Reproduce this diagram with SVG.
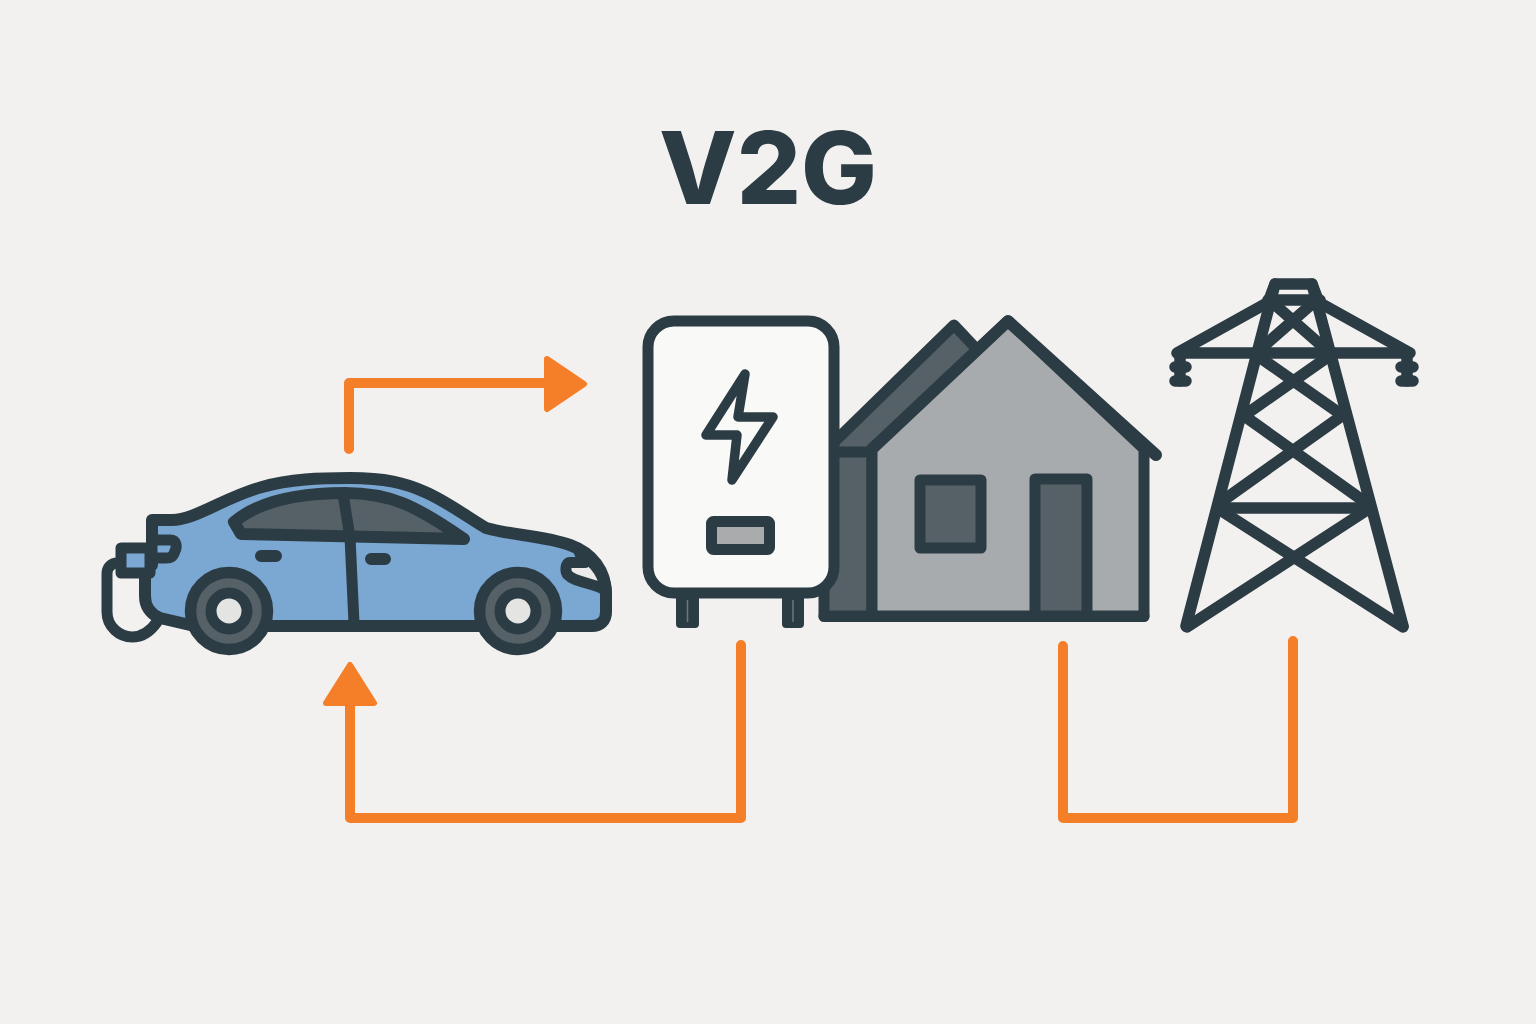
<svg xmlns="http://www.w3.org/2000/svg" width="1536" height="1024" viewBox="0 0 1536 1024">
<style>
.k{stroke:#2c3c44;stroke-linejoin:round;stroke-linecap:round}
.l{fill:none;stroke:#2c3c44;stroke-linejoin:round;stroke-linecap:round}
.o{fill:none;stroke:#f57f28;stroke-width:10;stroke-linejoin:round;stroke-linecap:round}
.h{fill:#f57f28;stroke:#f57f28;stroke-width:6;stroke-linejoin:round}
.d{fill:#566067}
</style>
<rect width="1536" height="1024" fill="#f2f1ef"/>
<text id="title" x="768" y="204" text-anchor="middle" font-family="Inter, Liberation Sans, Arial, sans-serif" font-weight="800" font-size="101" fill="#2c3c44">V2G</text>
<g id="car">
<path class="k" stroke-width="12" fill="#7ba7d3" d="M152 520 L172 520 C195 520 225 497 262 487 C290 479 320 478 350 478 C385 478 405 483 425 492 C448 502 470 519 486 528 C510 535 545 536 570 545 C592 553 606 570 606 595 L606 612 C606 621 600 626 592 626 L210 626 L190 625 L160 618 C150 614 145 606 145 596 L145 570 L152 565 Z"/>
<path class="k" stroke-width="12" fill="#566067" d="M234 522 C258 502 295 493 345 493 C390 493 415 505 464 539 L241 534 Z"/>
<path class="l" stroke-width="11" d="M343 494 L350 537 L354 623"/>
<path class="l" stroke-width="12" d="M261 556 L276 556M371 559 L385 559"/>
<path class="k" stroke-width="11" fill="#7ba7d3" d="M152 540 L170 540 C177 540 177 547 175 551 C173 557 171 558 166 558 L152 558 Z"/>
<rect class="k" stroke-width="11" fill="#7ba7d3" x="121" y="548" width="29" height="25"/>
<path class="l" stroke-width="11" d="M118 563 C110 563 107 568 107 574 L107 612 C107 627 120 637 132 637 C142 637 150 632 157 622"/>
<path fill="#ecebea" d="M568 567 L596 567 C600 572 601 578 603 584 C590 578 578 578 570 574 Z"/>
<path class="l" stroke-width="11" d="M585 562.500 L570 562.500 C565 562.500 565 572 568 575 C574 582 590 582 606 590"/>
<path class="l" stroke-width="12" d="M580 553 C596 562 606 575 606 595"/>
<circle class="k" cx="229" cy="611" r="38.500" stroke-width="11.500" fill="#566067"/>
<circle class="k" cx="229" cy="611" r="18" stroke-width="11" fill="#e4e4e3"/>
<circle class="k" cx="518" cy="611" r="38.500" stroke-width="11.500" fill="#566067"/>
<circle class="k" cx="518" cy="611" r="18" stroke-width="11" fill="#e4e4e3"/>
</g>
<g id="house">
<path class="k d" stroke-width="11" d="M824 616 L824 452 L954 325 L985 358 L872 452 L872 616 Z"/>
<path class="l" stroke-width="11" d="M826 452 L872 452"/>
<path class="k" stroke-width="11" fill="#a8abad" d="M872 616 L872 449 L1008 321 L1144 449 L1144 616 Z"/>
<path class="l" stroke-width="12" d="M872 449 L1008 321 L1156 455"/>
<rect class="k d" stroke-width="11" x="920" y="480" width="61" height="68"/>
<path class="k d" stroke-width="11" d="M1035 616 L1035 479 L1087 479 L1087 616 Z"/>
<path class="l" stroke-width="11" d="M824 616.500 L1144 616.500"/>
</g>
<g id="charger">
<rect class="k" x="677" y="590" width="21" height="37" rx="3" stroke-width="2" fill="#2c3c44"/>
<rect class="k" x="783" y="590" width="20" height="37" rx="3" stroke-width="2" fill="#2c3c44"/>
<path stroke="#6d777c" stroke-width="1.500" d="M687.500 600V622M793 600V622"/>
<rect class="k" x="648" y="321" width="186" height="272" rx="26" stroke-width="11" fill="#f9f9f7"/>
<path class="k" stroke-width="9.500" fill="none" d="M745 374 L706 435 L737 435 L732 480 L773 417 L738 417 Z"/>
<rect class="k" x="711.500" y="521.500" width="58" height="28" rx="2" stroke-width="11" fill="#a9abac"/>
</g>
<g id="tower" class="l" stroke-width="11.500">
<path d="M1269 300 L1275 284 L1312 284 L1318 300"/>
<path d="M1275 284 L1186 626 M1312 284 L1403 626"/>
<path d="M1268 300 L1320 300"/>
<path d="M1267 303 L1177 353 L1410 353 L1320 303"/>
<path d="M1180 353 V381 M1407 353 V381"/>
<path d="M1175 367 H1186 M1175 381 H1186 M1401 367 H1413 M1401 381 H1413"/>
<path d="M1273 303 L1330 353 M1313 303 L1256 353"/>
<path d="M1255 354 L1342 415 M1332 354 L1245 415"/>
<path d="M1243 415 L1365 502 M1343 415 L1221 502"/>
<path d="M1222 508 L1366 508"/>
<path d="M1220 510 L1403 627 M1367 510 L1187 627"/>
</g>
<g id="connectors">
<path class="o" d="M349 449 L349 383 L550 383"/>
<path class="h" d="M547 359 L584 384 L547 409 Z"/>
<path class="o" d="M741 645 L741 818 L350 818 L350 702"/>
<path class="h" d="M350 665 L374 703 L326 703 Z"/>
<path class="o" d="M1063 646 L1063 818 L1293 818 L1293 641"/>
</g>
</svg>
